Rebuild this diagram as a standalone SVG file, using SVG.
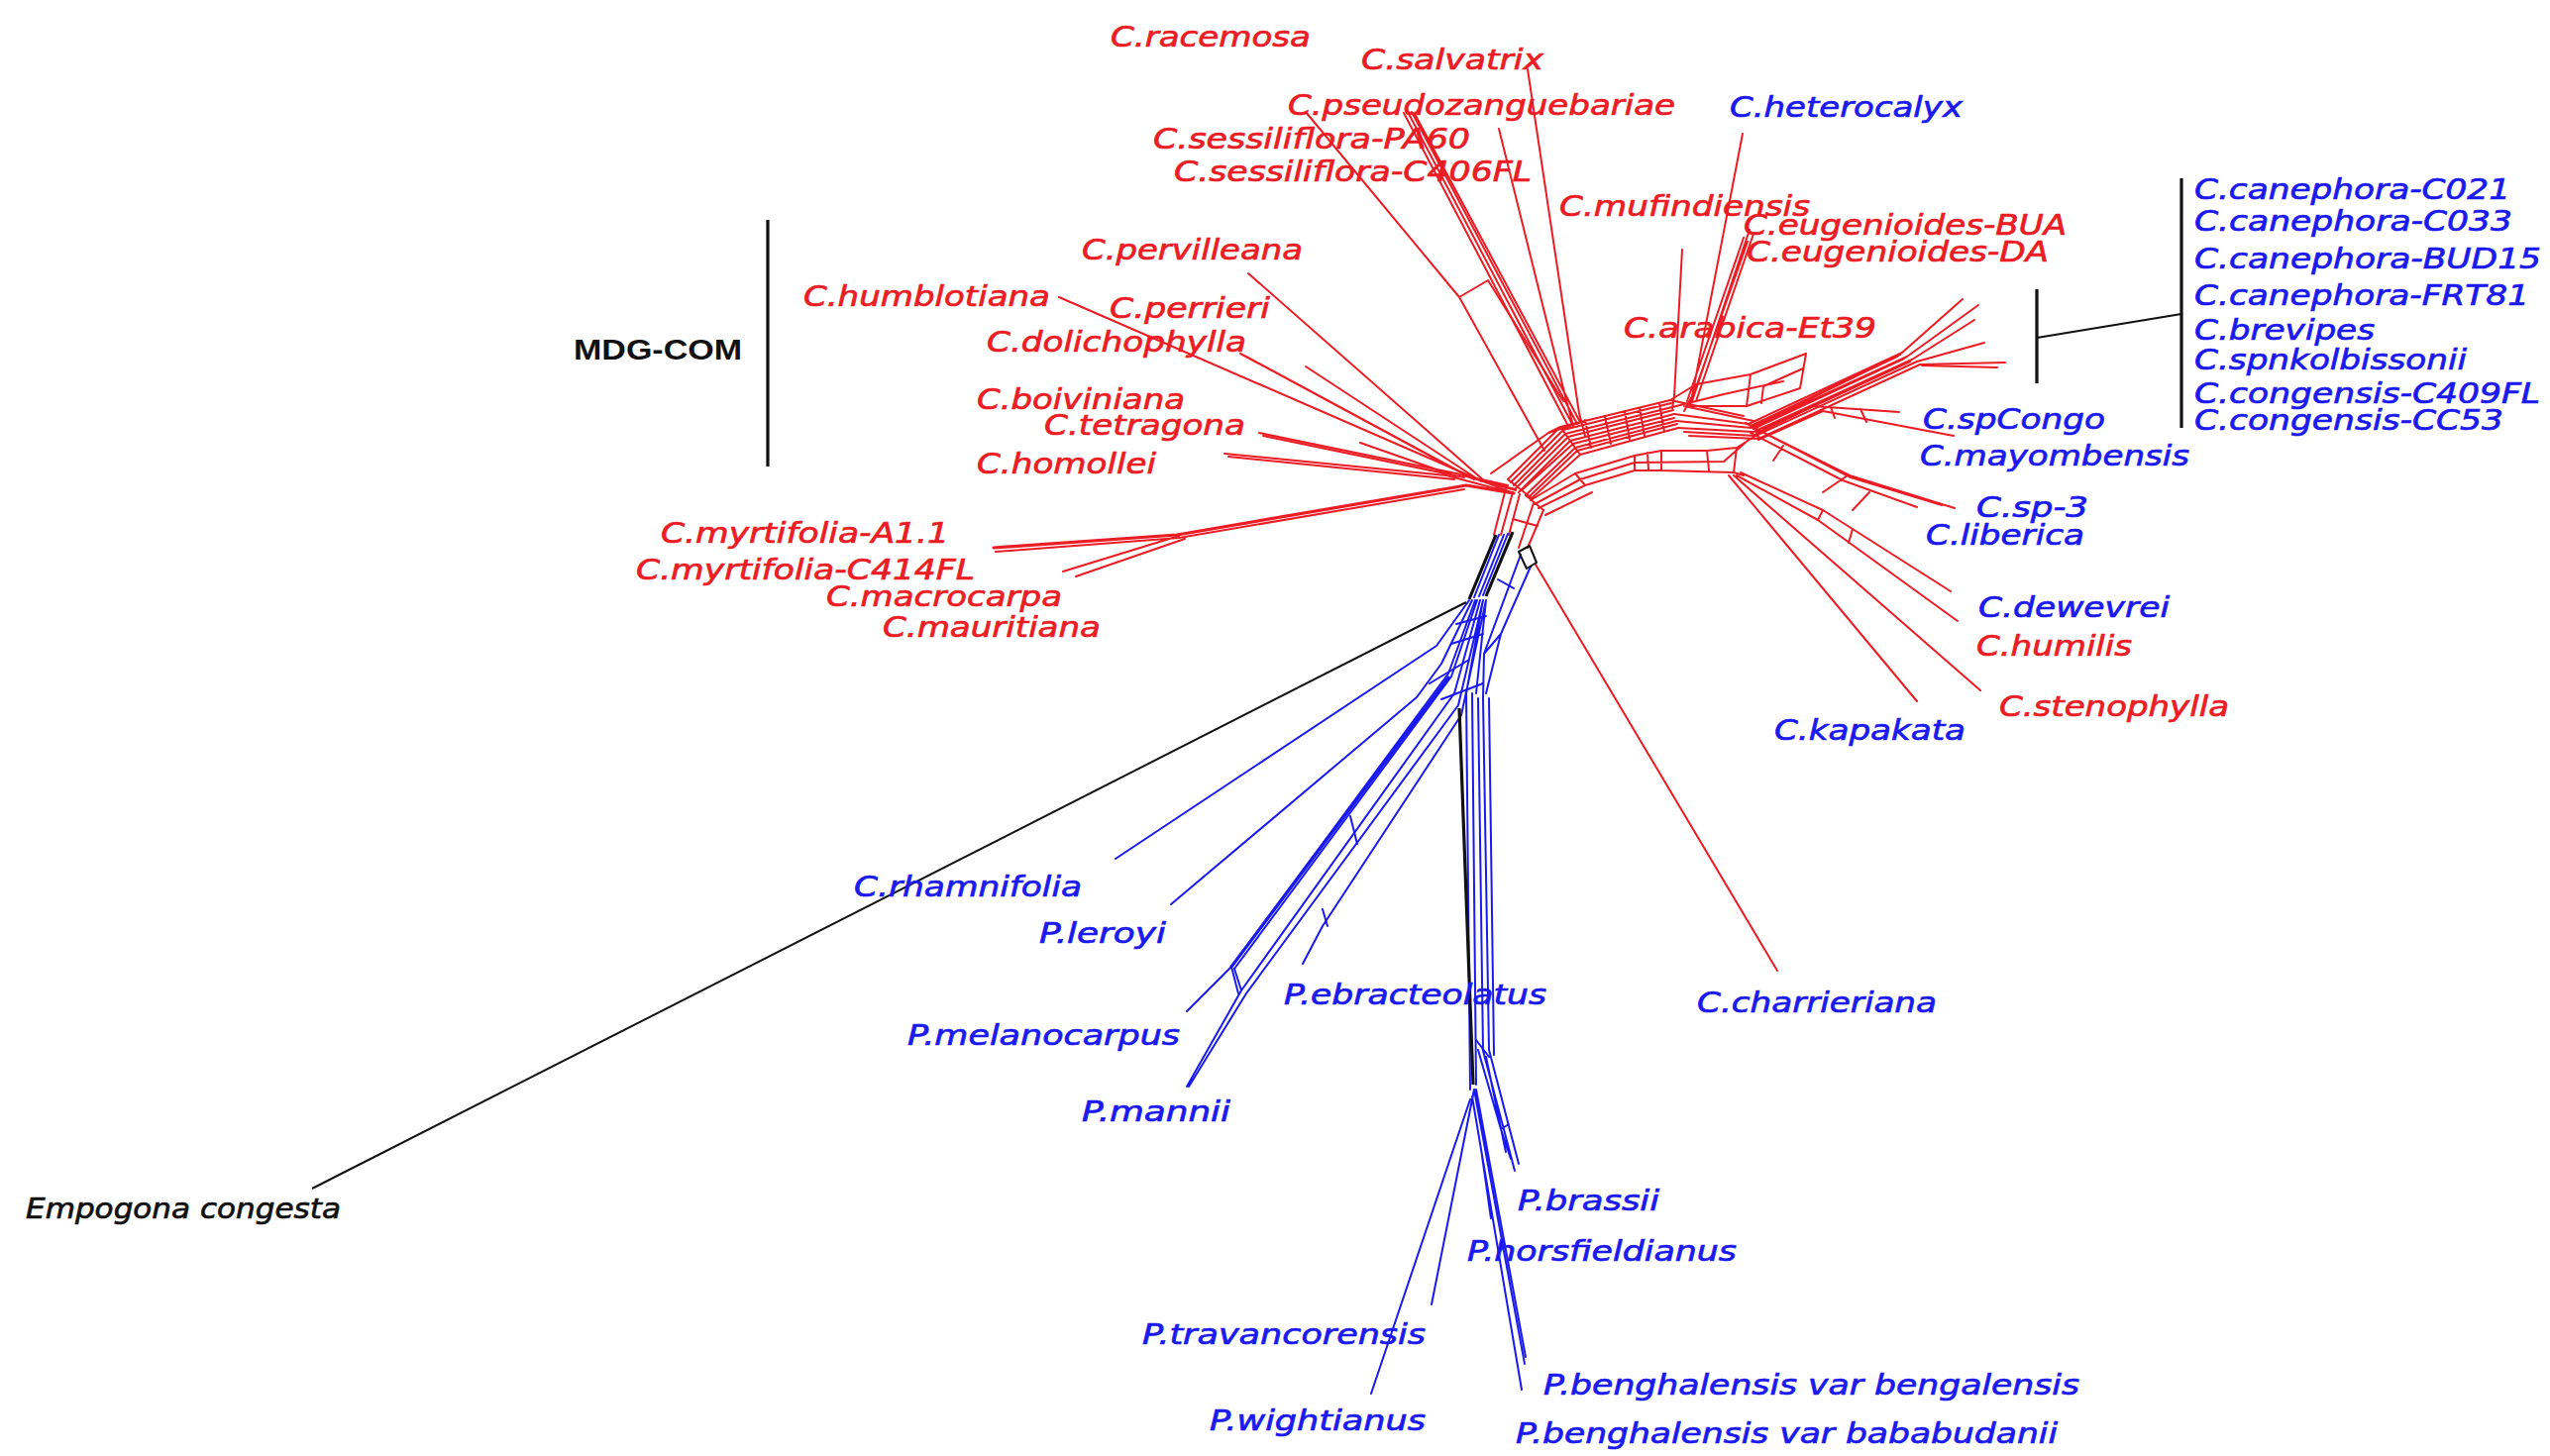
<svg xmlns="http://www.w3.org/2000/svg" width="2574" height="1470" viewBox="0 0 2574 1470">
<style>
.lbl{font-family:"DejaVu Sans",Verdana,sans-serif;font-style:italic;font-size:28px;stroke-width:0.7px}
.r{fill:#ec1c24;stroke:#ec1c24}.b{fill:#1a1aef;stroke:#1a1aef}.k{fill:#111;stroke:#111}
.rl{stroke:#ec1c24;stroke-width:2;fill:none;stroke-linejoin:round;stroke-linecap:round}
.bl{stroke:#1a1aef;stroke-width:2;fill:none;stroke-linejoin:round;stroke-linecap:round}
.kl{stroke:#111;stroke-width:2;fill:none;stroke-linejoin:round}
.thick{stroke-width:3.2}
</style>
<rect width="2574" height="1470" fill="#fff"/>
<g id="connectors">
<g id="red-network" class="rl">
<path d="M1069,300 L1492,484 M1260,276 L1500,487 M1252,357 L1482,481 M1258,360 L1488,484 M1318,370 L1495,486 M1271,437 L1470,478 M1275,440 L1478,482 M1373,447 L1470,481 M1236,458 L1460,480 M1240,461 L1468,484"/>
<path d="M1460,480 L1528,498 M1470,478 L1530,495 M1492,484 L1528,498 M1500,487 L1530,494 M1482,481 L1522,490"/>
<path class="thick" d="M1003,553 L1188,540 L1480,490 L1528,498"/>
<path d="M1005,557 L1190,543 M1073,577 L1190,541 M1086,582 L1196,544 M1190,543 L1478,494"/>
<path d="M1542,70 L1594,417 L1600,440 M1513,130 L1580,400 L1588,430 M1421,113 L1588,430 M1425,113 L1592,428 M1417,114 L1584,432 M1428,115 L1595,426"/>
<path d="M1318,113 L1473,300 L1559,455 M1473,300 L1502,283 L1578,405"/>
<path d="M1533,497 L1585,445 L1690,418 M1528,490 L1580,438 L1688,411 M1522,484 L1575,431 L1686,404 M1540,500 L1590,452 L1692,425 M1546,503 L1595,459 L1694,432 M1537,494 L1588,448 L1690,422 M1530,493 L1583,441 L1689,414 M1525,487 L1578,434 L1687,407 M1543,502 L1592,455 L1693,428 M1522,484 L1546,503 M1575,431 L1595,459 M1600,424 L1606,452 M1620,421 L1626,448 M1640,415 L1645,444 M1655,412 L1660,440 M1675,408 L1680,436 M1505,478 L1563,437 L1600,425 M1563,437 L1575,431"/>
<path d="M1759,135 L1708,400 L1700,415 M1698,252 L1690,400 L1688,412 M1766,232 L1708,405 M1760,240 L1703,405 M1770,236 L1712,405 M1764,244 L1706,408"/>
<path d="M1823,357 L1767,378 L1712,388 M1823,357 L1817,392 L1763,410 L1705,410 M1767,378 L1763,410 M1820,372 L1780,390 L1778,407 M1712,388 L1705,410 M1686,404 L1712,388 M1688,411 L1740,398 L1800,385 M1686,404 L1760,420 M1700,410 L1770,425"/>
<path d="M1690,418 L1765,428 L1920,356 L1981,302 M1692,425 L1768,432 L1925,360 L1997,308 M1694,432 L1770,436 L1930,363 L1993,323 M1700,436 L1772,440 L1935,365 L2003,346 M1705,440 L1775,443 L1938,368 L2024,366 M1940,369 L2016,371 M1767,430 L1915,360 M1770,433 L1922,362 M1773,437 L1928,365 M1769,431 L1918,358"/>
<path d="M1770,440 L1830,410 L1917,416 M1775,444 L1840,415 L1972,440 M1848,411 L1852,422 M1878,413 L1884,426"/>
<path d="M1545,505 L1590,478 L1650,460 L1677,455 L1723,455 L1753,452 L1777,437 M1553,513 L1600,490 L1650,475 L1677,475 L1750,477 L1760,480 M1549,509 L1595,484 L1650,467 L1740,466 L1765,444 M1650,460 L1650,475 M1663,457 L1664,475 M1677,455 L1677,475 M1723,455 L1725,475 M1600,490 L1590,478 M1753,452 L1750,477 M1773,433 L1762,427 M1560,520 L1607,497"/>
<path d="M1773,433 L1867,480 L1973,513 M1767,437 L1860,485 L1935,512 M1777,435 L1868,482 L1960,510 M1840,497 L1865,480 M1870,515 L1887,497 M1800,450 L1790,465 M1757,477 L1840,515 L1969,597 M1753,480 L1835,525 L1976,627 M1840,515 L1835,525 M1870,534 L1866,548 M1750,480 L1999,697 M1745,480 L1935,708"/>
<path d="M1550,570 L1794,980"/>
<path d="M1520,493 L1508,540 M1527,497 L1515,540 M1534,499 L1523,540 M1548,508 L1533,553 M1558,515 L1542,553 M1540,500 L1558,515 M1527,524 L1552,531"/>
</g>
<g id="blue-network" class="bl">
<path d="M1513,540 L1488,603 M1518,540 L1493,602 M1522,539 L1497,601"/>
<path d="M1535,560 L1498,660 L1497,705 M1545,572 L1515,640 L1500,700 M1498,660 L1515,640 M1512,585 L1528,594"/>
<path d="M1483,606 L1450,652 L1126,867 M1486,606 L1455,670 L1430,704 L1182,913 M1489,606 L1462,680 L1243,976 L1198,1021 M1491,606 L1465,683 L1246,978 M1494,606 L1468,700 L1253,1000 L1198,1097 M1497,606 L1472,712 L1258,1003 L1200,1097 M1500,606 L1475,722 L1335,935 L1315,973 M1497,606 L1480,700 M1500,606 L1490,700"/>
<path class="thick" d="M1462,684 L1243,976"/>
<path d="M1443,690 L1483,666 M1455,706 L1497,690 M1465,650 L1497,640 M1470,630 L1500,622 M1243,976 L1250,1003 M1363,824 L1370,852 M1335,918 L1340,935 M1246,978 L1253,1000"/>
<path d="M1480,700 L1484,1100 M1486,700 L1490,1095 M1492,705 L1497,1060 M1497,705 L1503,1060 M1503,705 L1508,1065"/>
<path d="M1490,1050 L1503,1067 M1496,1057 L1529,1182 M1500,1067 L1520,1163 M1503,1060 L1533,1175 M1492,1060 L1515,1140 L1525,1170 M1515,1140 L1523,1135 M1488,1100 L1539,1377 M1486,1107 L1536,1403 M1490,1100 L1540,1370 M1496,1167 L1505,1230 M1488,1100 L1445,1317 M1484,1110 L1384,1407"/>
</g>
<g id="black-lines" class="kl">
<path class="thick" d="M1510,540 L1483,605 M1527,537 L1500,602 M1473,715 L1487,1095"/>
<path d="M1533,557 L1544,551 L1551,568 L1541,574 Z"/>
<path d="M1480,608 L315,1200"/>
<path class="thick" d="M775,222 L775,471 M2202,180 L2202,432 M2056,292 L2056,387"/>
<path d="M2056,341 L2202,317"/>
</g>
</g>
<g id="labels">
<g id="n-racemosa"><text class="lbl r" x="1121" y="47" textLength="202" lengthAdjust="spacingAndGlyphs">C.racemosa</text></g>
<g id="n-salvatrix"><text class="lbl r" x="1374" y="70" textLength="184" lengthAdjust="spacingAndGlyphs">C.salvatrix</text></g>
<g id="n-pseudozanguebariae"><text class="lbl r" x="1300" y="116" textLength="391" lengthAdjust="spacingAndGlyphs">C.pseudozanguebariae</text></g>
<g id="n-sessiliflora-PA60"><text class="lbl r" x="1164" y="150" textLength="320" lengthAdjust="spacingAndGlyphs">C.sessiliflora-PA60</text></g>
<g id="n-sessiliflora-C406FL"><text class="lbl r" x="1185" y="183" textLength="361" lengthAdjust="spacingAndGlyphs">C.sessiliflora-C406FL</text></g>
<g id="n-heterocalyx"><text class="lbl b" x="1746" y="118" textLength="235" lengthAdjust="spacingAndGlyphs">C.heterocalyx</text></g>
<g id="n-mufindiensis"><text class="lbl r" x="1574" y="218" textLength="253" lengthAdjust="spacingAndGlyphs">C.mufindiensis</text></g>
<g id="n-eugenioides-BUA"><text class="lbl r" x="1760" y="237" textLength="326" lengthAdjust="spacingAndGlyphs">C.eugenioides-BUA</text></g>
<g id="n-eugenioides-DA"><text class="lbl r" x="1763" y="264" textLength="305" lengthAdjust="spacingAndGlyphs">C.eugenioides-DA</text></g>
<g id="n-arabica"><text class="lbl r" x="1639" y="341" textLength="255" lengthAdjust="spacingAndGlyphs">C.arabica-Et39</text></g>
<g id="n-pervilleana"><text class="lbl r" x="1092" y="262" textLength="223" lengthAdjust="spacingAndGlyphs">C.pervilleana</text></g>
<g id="n-humblotiana"><text class="lbl r" x="811" y="309" textLength="249" lengthAdjust="spacingAndGlyphs">C.humblotiana</text></g>
<g id="n-perrieri"><text class="lbl r" x="1120" y="321" textLength="162" lengthAdjust="spacingAndGlyphs">C.perrieri</text></g>
<g id="n-dolichophylla"><text class="lbl r" x="996" y="355" textLength="262" lengthAdjust="spacingAndGlyphs">C.dolichophylla</text></g>
<g id="n-boiviniana"><text class="lbl r" x="986" y="413" textLength="210" lengthAdjust="spacingAndGlyphs">C.boiviniana</text></g>
<g id="n-tetragona"><text class="lbl r" x="1054" y="439" textLength="203" lengthAdjust="spacingAndGlyphs">C.tetragona</text></g>
<g id="n-homollei"><text class="lbl r" x="986" y="478" textLength="181" lengthAdjust="spacingAndGlyphs">C.homollei</text></g>
<g id="n-myrtifolia-A11"><text class="lbl r" x="667" y="548" textLength="291" lengthAdjust="spacingAndGlyphs">C.myrtifolia-A1.1</text></g>
<g id="n-myrtifolia-C414FL"><text class="lbl r" x="642" y="585" textLength="342" lengthAdjust="spacingAndGlyphs">C.myrtifolia-C414FL</text></g>
<g id="n-macrocarpa"><text class="lbl r" x="834" y="612" textLength="238" lengthAdjust="spacingAndGlyphs">C.macrocarpa</text></g>
<g id="n-mauritiana"><text class="lbl r" x="891" y="643" textLength="220" lengthAdjust="spacingAndGlyphs">C.mauritiana</text></g>
<g id="n-humilis"><text class="lbl r" x="1995" y="662" textLength="157" lengthAdjust="spacingAndGlyphs">C.humilis</text></g>
<g id="n-stenophylla"><text class="lbl r" x="2018" y="723" textLength="232" lengthAdjust="spacingAndGlyphs">C.stenophylla</text></g>
<g id="n-canephora-C021"><text class="lbl b" x="2215" y="201" textLength="319" lengthAdjust="spacingAndGlyphs">C.canephora-C021</text></g>
<g id="n-canephora-C033"><text class="lbl b" x="2215" y="233" textLength="321" lengthAdjust="spacingAndGlyphs">C.canephora-C033</text></g>
<g id="n-canephora-BUD15"><text class="lbl b" x="2215" y="271" textLength="350" lengthAdjust="spacingAndGlyphs">C.canephora-BUD15</text></g>
<g id="n-canephora-FRT81"><text class="lbl b" x="2215" y="308" textLength="338" lengthAdjust="spacingAndGlyphs">C.canephora-FRT81</text></g>
<g id="n-brevipes"><text class="lbl b" x="2215" y="343" textLength="182" lengthAdjust="spacingAndGlyphs">C.brevipes</text></g>
<g id="n-spnkolbissonii"><text class="lbl b" x="2215" y="373" textLength="275" lengthAdjust="spacingAndGlyphs">C.spnkolbissonii</text></g>
<g id="n-congensis-C409FL"><text class="lbl b" x="2215" y="407" textLength="349" lengthAdjust="spacingAndGlyphs">C.congensis-C409FL</text></g>
<g id="n-congensis-CC53"><text class="lbl b" x="2215" y="434" textLength="312" lengthAdjust="spacingAndGlyphs">C.congensis-CC53</text></g>
<g id="n-spCongo"><text class="lbl b" x="1941" y="433" textLength="184" lengthAdjust="spacingAndGlyphs">C.spCongo</text></g>
<g id="n-mayombensis"><text class="lbl b" x="1938" y="470" textLength="272" lengthAdjust="spacingAndGlyphs">C.mayombensis</text></g>
<g id="n-sp-3"><text class="lbl b" x="1995" y="522" textLength="113" lengthAdjust="spacingAndGlyphs">C.sp-3</text></g>
<g id="n-liberica"><text class="lbl b" x="1944" y="550" textLength="160" lengthAdjust="spacingAndGlyphs">C.liberica</text></g>
<g id="n-dewevrei"><text class="lbl b" x="1997" y="623" textLength="193" lengthAdjust="spacingAndGlyphs">C.dewevrei</text></g>
<g id="n-kapakata"><text class="lbl b" x="1791" y="747" textLength="193" lengthAdjust="spacingAndGlyphs">C.kapakata</text></g>
<g id="n-charrieriana"><text class="lbl b" x="1713" y="1022" textLength="242" lengthAdjust="spacingAndGlyphs">C.charrieriana</text></g>
<g id="n-rhamnifolia"><text class="lbl b" x="862" y="905" textLength="230" lengthAdjust="spacingAndGlyphs">C.rhamnifolia</text></g>
<g id="n-leroyi"><text class="lbl b" x="1049" y="952" textLength="128" lengthAdjust="spacingAndGlyphs">P.leroyi</text></g>
<g id="n-ebracteolatus"><text class="lbl b" x="1296" y="1014" textLength="265" lengthAdjust="spacingAndGlyphs">P.ebracteolatus</text></g>
<g id="n-melanocarpus"><text class="lbl b" x="916" y="1055" textLength="275" lengthAdjust="spacingAndGlyphs">P.melanocarpus</text></g>
<g id="n-mannii"><text class="lbl b" x="1092" y="1132" textLength="150" lengthAdjust="spacingAndGlyphs">P.mannii</text></g>
<g id="n-brassii"><text class="lbl b" x="1532" y="1222" textLength="143" lengthAdjust="spacingAndGlyphs">P.brassii</text></g>
<g id="n-horsfieldianus"><text class="lbl b" x="1481" y="1273" textLength="272" lengthAdjust="spacingAndGlyphs">P.horsfieldianus</text></g>
<g id="n-travancorensis"><text class="lbl b" x="1153" y="1357" textLength="286" lengthAdjust="spacingAndGlyphs">P.travancorensis</text></g>
<g id="n-bengalensis"><text class="lbl b" x="1558" y="1408" textLength="541" lengthAdjust="spacingAndGlyphs">P.benghalensis var bengalensis</text></g>
<g id="n-wightianus"><text class="lbl b" x="1221" y="1444" textLength="218" lengthAdjust="spacingAndGlyphs">P.wightianus</text></g>
<g id="n-bababudanii"><text class="lbl b" x="1530" y="1457" textLength="547" lengthAdjust="spacingAndGlyphs">P.benghalensis var bababudanii</text></g>
<g id="n-empogona"><text class="lbl k" x="26" y="1230" textLength="318" lengthAdjust="spacingAndGlyphs">Empogona congesta</text></g>
<g id="n-mdg-com"><text x="579" y="363" textLength="170" lengthAdjust="spacingAndGlyphs" style="font-family:'Liberation Sans',Arial,sans-serif;font-weight:bold;font-size:29px;fill:#111">MDG-COM</text></g>
</g>
</svg>
